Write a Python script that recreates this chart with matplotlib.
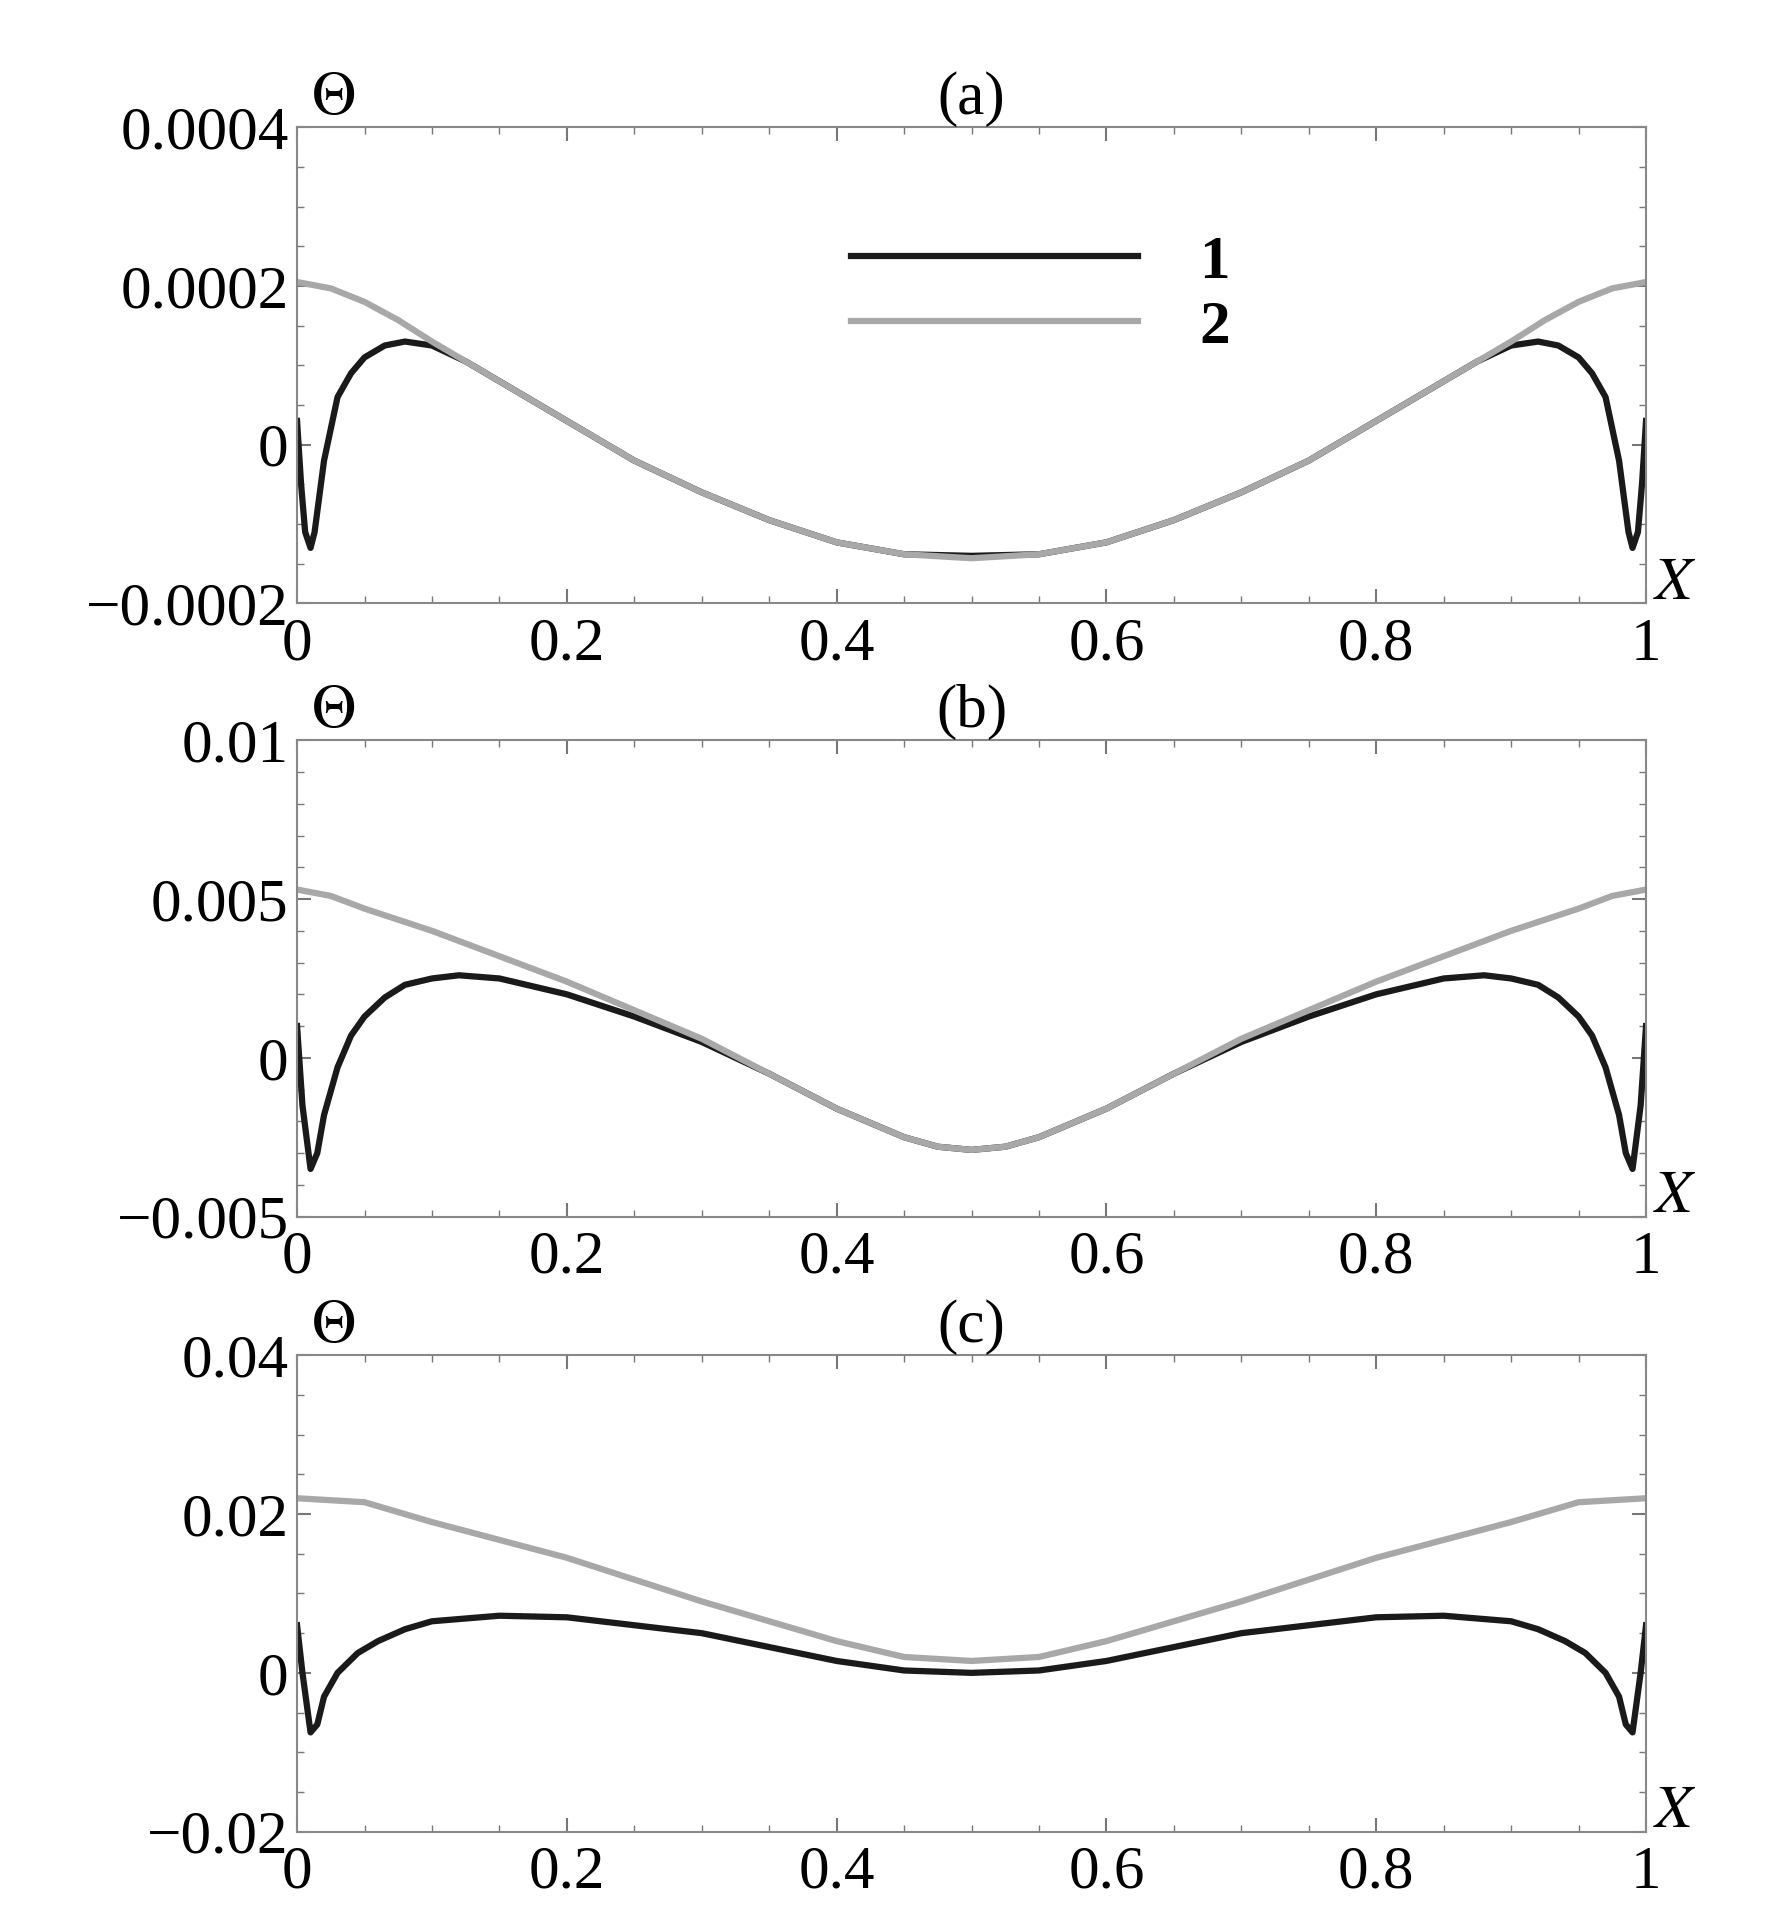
import matplotlib
matplotlib.use("Agg")
import matplotlib.pyplot as plt
from matplotlib.ticker import MultipleLocator, FuncFormatter

plt.rcParams['font.family'] = ['Liberation Serif', 'DejaVu Serif']
plt.rcParams['mathtext.fontset'] = 'stix'

# Panel (a)
xa1 = [0,0.003,0.006,0.01,0.013,0.02,0.03,0.04,0.05,0.065,0.08,0.1,0.125,0.15,0.2,0.25,0.3,0.35,0.4,0.45,0.5,
       0.55,0.6,0.65,0.7,0.75,0.8,0.85,0.875,0.9,0.92,0.935,0.95,0.96,0.97,0.98,0.987,0.99,0.994,0.997,1]
ya1 = [0.00003,-0.00005,-0.00011,-0.00013,-0.00011,-0.00002,0.00006,0.00009,0.000110,0.000125,0.00013,0.000125,0.000105,0.00008,
       0.00003,-0.00002,-0.00006,-0.000095,-0.000123,-0.000138,-0.00014,
       -0.000138,-0.000123,-0.000095,-0.00006,-0.00002,0.00003,0.00008,0.000105,0.000125,0.00013,0.000125,0.00011,0.00009,0.00006,
       -0.00002,-0.00011,-0.00013,-0.00011,-0.00005,0.00003]
xa2 = [0,0.025,0.05,0.075,0.1,0.15,0.2,0.25,0.3,0.35,0.4,0.45,0.5,0.55,0.6,0.65,0.7,0.75,0.8,0.85,0.9,0.925,0.95,0.975,1]
ya2 = [0.000205,0.000197,0.000180,0.000157,0.00013,0.00008,0.00003,-0.00002,-0.00006,-0.000095,-0.000123,-0.000138,-0.000143,
       -0.000138,-0.000123,-0.000095,-0.00006,-0.00002,0.00003,0.00008,0.00013,0.000157,0.000180,0.000197,0.000205]
# Panel (b)
xb1 = [0,0.004,0.01,0.015,0.02,0.03,0.04,0.05,0.065,0.08,0.1,0.12,0.15,0.2,0.25,0.3,0.35,0.4,0.45,0.475,0.5,
       0.525,0.55,0.6,0.65,0.7,0.75,0.8,0.85,0.88,0.9,0.92,0.935,0.95,0.96,0.97,0.98,0.985,0.99,0.996,1]
yb1 = [0.001,-0.0015,-0.0035,-0.003,-0.0018,-0.0003,0.0007,0.0013,0.0019,0.0023,0.0025,0.0026,0.0025,0.0020,0.0013,0.0005,-0.0005,-0.0016,-0.0025,-0.0028,-0.0029,
       -0.0028,-0.0025,-0.0016,-0.0005,0.0005,0.0013,0.0020,0.0025,0.0026,0.0025,0.0023,0.0019,0.0013,0.0007,-0.0003,-0.0018,-0.003,-0.0035,-0.0015,0.001]
xb2 = [0,0.025,0.05,0.1,0.15,0.2,0.25,0.3,0.35,0.4,0.45,0.475,0.5,0.525,0.55,0.6,0.65,0.7,0.75,0.8,0.85,0.9,0.95,0.975,1]
yb2 = [0.0053,0.0051,0.0047,0.0040,0.0032,0.0024,0.0015,0.0006,-0.0005,-0.0016,-0.0025,-0.0028,-0.0029,
       -0.0028,-0.0025,-0.0016,-0.0005,0.0006,0.0015,0.0024,0.0032,0.0040,0.0047,0.0051,0.0053]
# Panel (c)
xc1 = [0,0.004,0.01,0.015,0.02,0.03,0.045,0.06,0.08,0.1,0.15,0.2,0.3,0.4,0.45,0.5,0.55,0.6,0.7,0.8,0.85,0.9,0.92,0.94,0.955,0.97,0.98,0.985,0.99,0.996,1]
yc1 = [0.006,0.0,-0.0075,-0.0065,-0.003,0.0,0.0025,0.004,0.0055,0.0065,0.0072,0.007,0.005,0.0015,0.0003,0.0,
       0.0003,0.0015,0.005,0.007,0.0072,0.0065,0.0055,0.004,0.0025,0.0,-0.003,-0.0065,-0.0075,0.0,0.006]
xc2 = [0,0.05,0.1,0.2,0.3,0.4,0.45,0.5,0.55,0.6,0.7,0.8,0.9,0.95,1]
yc2 = [0.022,0.0215,0.019,0.0145,0.009,0.004,0.002,0.0015,0.002,0.004,0.009,0.0145,0.019,0.0215,0.022]

panels = [
    ("(a)", xa1, ya1, xa2, ya2, (-0.0002, 0.0004), 0.0002, ["−0.0002", "0", "0.0002", "0.0004"], 0.00005),
    ("(b)", xb1, yb1, xb2, yb2, (-0.005, 0.01), 0.005, ["−0.005", "0", "0.005", "0.01"], 0.001),
    ("(c)", xc1, yc1, xc2, yc2, (-0.02, 0.04), 0.02, ["−0.02", "0", "0.02", "0.04"], 0.005),
]
bottoms = [0.687, 0.369, 0.050]

fig = plt.figure(figsize=(17.82, 19.28), dpi=100)
fs = 44
for (title, x1, y1, x2, y2, ylim, ystep, ylabels, yminor), b in zip(panels, bottoms):
    ax = fig.add_axes([0.1667, b, 0.757, 0.247])
    l1, = ax.plot(x1, y1, color='#1a1a1a', lw=4.5, label='1')
    l2, = ax.plot(x2, y2, color='#a8a8a8', lw=4.5, label='2')
    ax.set_xlim(0, 1)
    ax.set_ylim(*ylim)
    ax.xaxis.set_major_locator(MultipleLocator(0.2))
    ax.xaxis.set_minor_locator(MultipleLocator(0.05))
    ax.xaxis.set_major_formatter(FuncFormatter(lambda v, p: "0" if abs(v) < 1e-9 else ("1" if abs(v-1) < 1e-9 else f"{v:.1f}")))
    yt = [ylim[0] + i*ystep for i in range(4)]
    ax.set_yticks(yt)
    ax.set_yticklabels(ylabels)
    ax.yaxis.set_minor_locator(MultipleLocator(yminor))
    ax.tick_params(which='both', direction='in', top=True, right=True, labelsize=fs, color='#777777')
    ax.tick_params(which='major', length=10, width=1.5)
    ax.tick_params(which='minor', length=5, width=1)
    ax.tick_params(axis='x', pad=10)
    ax.tick_params(axis='y', pad=6)
    for s in ax.spines.values():
        s.set_color('#888888'); s.set_linewidth(1.5)
    ax.set_title(title, fontsize=fs, pad=8)
    ax.text(0.01, 1.0, r"$\mathit{\Theta}$", transform=ax.transAxes, fontsize=fs, ha='left', va='bottom')
    ax.text(1.005, 0.04, r"$X$", transform=ax.transAxes, fontsize=fs, ha='left', va='center')
    if title == "(a)":
        ax.legend(handles=[l1, l2], loc='upper left', bbox_to_anchor=(0.37, 0.89), frameon=False,
                  handlelength=4.7, prop={'size': fs, 'weight': 'bold'}, labelspacing=0.15, handletextpad=1.0)

fig.savefig("out.png", dpi=100)
